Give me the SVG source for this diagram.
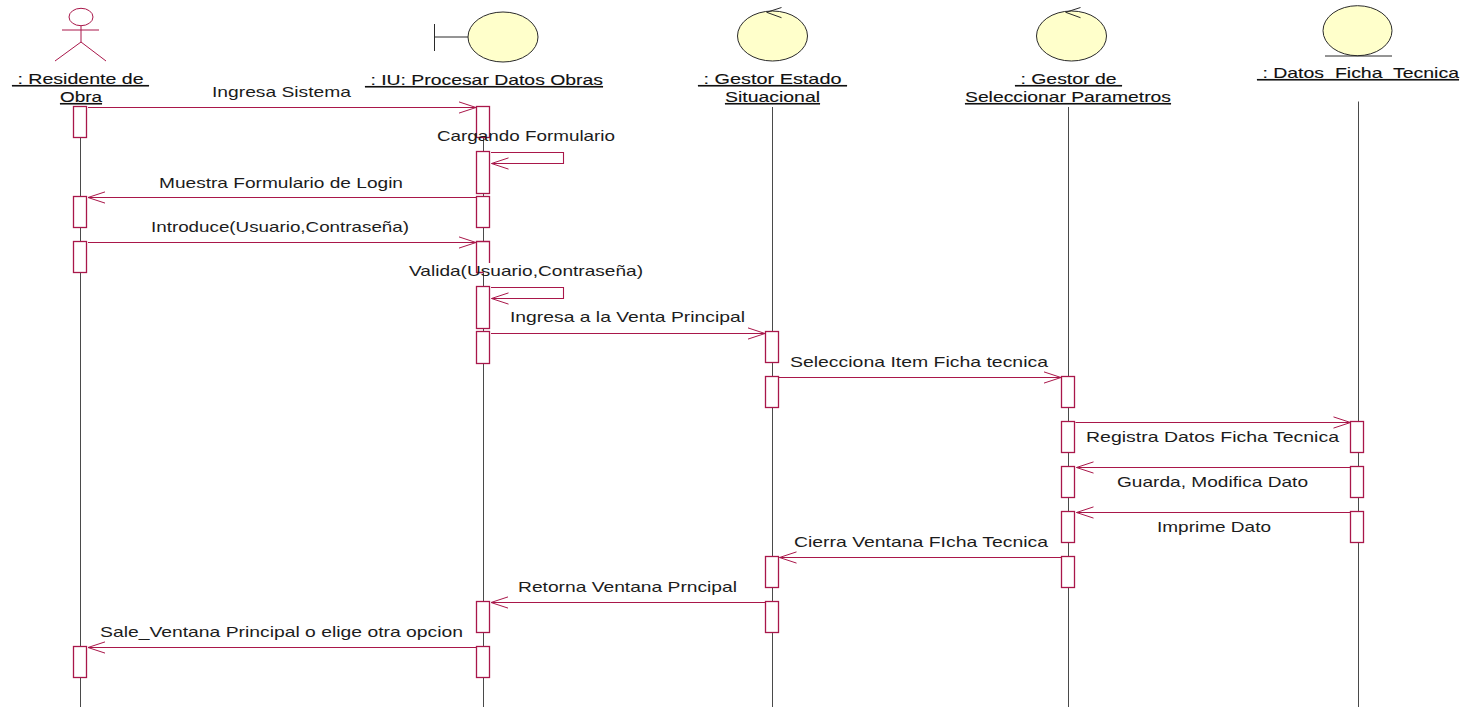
<svg xmlns="http://www.w3.org/2000/svg" width="1471" height="707" viewBox="0 0 1471 707">
<style>
text{font-family:"Liberation Sans",Arial,sans-serif;font-size:15px;fill:#1c1c1c}
.h{text-decoration:underline;fill:#111;stroke:#111;stroke-width:.12px}
.life{stroke:#4a4a4a;stroke-width:1;fill:none}
.act{fill:#fff;stroke:#a9174a;stroke-width:1.3}
.msg{stroke:#a9174a;stroke-width:1.1;fill:none}
.head{stroke:#a9174a;stroke-width:1;fill:none}
.ball{fill:#ffffcb;stroke:#2a2a2a;stroke-width:1}
.dk{stroke:#2a2a2a;stroke-width:1;fill:none}
.actor{stroke:#a9174a;stroke-width:1;fill:none}
</style>
<defs>
<path id="ar" class="head" d="M-17,-5.600 L0,0 L-17,5.600"/>
<path id="al" class="head" d="M17,-5.600 L0,0 L17,5.600"/>
</defs>
<g id="lifelines">
<path class="life" d="M80.500,107V707M483.500,107V707M772.500,107V707M1068.500,107V707M1358.500,101.500V707"/>
</g>
<g id="node-residente">
<ellipse class="actor" cx="81" cy="17" rx="12" ry="8.700"/>
<path class="actor" d="M62,30H99M81,26V42M55,61L81,42L106,61"/>
<text class="h" x="12" y="84" textLength="137" lengthAdjust="spacingAndGlyphs" xml:space="preserve"> : Residente de </text>
<text class="h" x="60" y="102" textLength="42" lengthAdjust="spacingAndGlyphs">Obra</text>
</g>
<g id="node-iu">
<ellipse class="ball" cx="503" cy="37" rx="35" ry="25"/>
<path class="dk" d="M434.500,24V51M434.500,37H468"/>
<text class="h" x="365" y="85" textLength="238" lengthAdjust="spacingAndGlyphs" xml:space="preserve"> : IU: Procesar Datos Obras</text>
</g>
<g id="node-gestor-estado">
<ellipse class="ball" cx="772.500" cy="36" rx="35" ry="25"/>
<path class="dk" d="M781.500,7.500L766.700,12.300L781.500,17.700"/>
<text class="h" x="698" y="84" textLength="149" lengthAdjust="spacingAndGlyphs" xml:space="preserve"> : Gestor Estado </text>
<text class="h" x="725" y="102" textLength="95" lengthAdjust="spacingAndGlyphs">Situacional</text>
</g>
<g id="node-gestor-seleccionar">
<ellipse class="ball" cx="1071.500" cy="36" rx="35" ry="25"/>
<path class="dk" d="M1080.500,7.500L1065.700,12.300L1080.500,17.700"/>
<text class="h" x="1015" y="84" textLength="107" lengthAdjust="spacingAndGlyphs" xml:space="preserve"> : Gestor de </text>
<text class="h" x="965" y="102" textLength="206" lengthAdjust="spacingAndGlyphs">Seleccionar Parametros</text>
</g>
<g id="node-datos">
<ellipse class="ball" cx="1357.500" cy="30.700" rx="34.500" ry="25"/>
<path class="dk" d="M1325,56H1392"/>
<text class="h" x="1257" y="78" textLength="202" lengthAdjust="spacingAndGlyphs" xml:space="preserve"> : Datos  Ficha  Tecnica</text>
</g>
<g id="activations">
<rect class="act" x="73.500" y="106.500" width="13" height="31"/>
<rect class="act" x="73.500" y="196.500" width="13" height="31"/>
<rect class="act" x="73.500" y="241.500" width="13" height="31"/>
<rect class="act" x="73.500" y="646.500" width="13" height="31"/>
<rect class="act" x="476.500" y="106.500" width="13" height="31"/>
<rect class="act" x="476.500" y="151.500" width="13" height="42"/>
<rect class="act" x="476.500" y="196.500" width="13" height="31"/>
<path class="act" d="M483.500,272.500H476.500V241.500H489.500V263"/>
<rect class="act" x="476.500" y="286.500" width="13" height="42"/>
<rect class="act" x="476.500" y="331.500" width="13" height="32"/>
<rect class="act" x="476.500" y="601.500" width="13" height="31"/>
<rect class="act" x="476.500" y="646.500" width="13" height="31"/>
<rect class="act" x="765.500" y="331.500" width="13" height="31"/>
<rect class="act" x="765.500" y="376.500" width="13" height="31"/>
<rect class="act" x="765.500" y="556.500" width="13" height="31"/>
<rect class="act" x="765.500" y="601.500" width="13" height="31"/>
<rect class="act" x="1061.500" y="376.500" width="13" height="31"/>
<rect class="act" x="1061.500" y="421.500" width="13" height="31"/>
<rect class="act" x="1061.500" y="466.500" width="13" height="31"/>
<rect class="act" x="1061.500" y="511.500" width="13" height="31"/>
<rect class="act" x="1061.500" y="556.500" width="13" height="31"/>
<rect class="act" x="1350.500" y="421.500" width="13" height="31"/>
<rect class="act" x="1350.500" y="466.500" width="13" height="31"/>
<rect class="act" x="1350.500" y="511.500" width="13" height="31"/>
</g>
<g id="connectors">
<path class="msg" d="M88,107.500H476"/><use href="#ar" x="476" y="107.500"/>
<path class="msg" d="M491,152.500H563.500V163.500H491.500"/><use href="#al" x="491.500" y="163.500"/>
<path class="msg" d="M476,197.500H88"/><use href="#al" x="88" y="197.500"/>
<path class="msg" d="M88,242.500H476"/><use href="#ar" x="476" y="242.500"/>
<path class="msg" d="M491,287.500H563.500V298.500H491.500"/><use href="#al" x="491.500" y="298.500"/>
<path class="msg" d="M491,333.500H765"/><use href="#ar" x="765" y="333.500"/>
<path class="msg" d="M779,377.500H1061"/><use href="#ar" x="1061" y="377.500"/>
<path class="msg" d="M1075.500,422.500H1350.500"/><use href="#ar" x="1350.500" y="422.500"/>
<path class="msg" d="M1350,467.500H1076.500"/><use href="#al" x="1076.500" y="467.500"/>
<path class="msg" d="M1350,512.500H1076.500"/><use href="#al" x="1076.500" y="512.500"/>
<path class="msg" d="M1061,557.500H779.500"/><use href="#al" x="779.500" y="557.500"/>
<path class="msg" d="M765,602.500H491"/><use href="#al" x="491" y="602.500"/>
<path class="msg" d="M476,647.500H88"/><use href="#al" x="88" y="647.500"/>
</g>
<g id="labels">
<text x="212" y="96.500" textLength="139" lengthAdjust="spacingAndGlyphs">Ingresa Sistema</text>
<text x="437" y="141" textLength="178" lengthAdjust="spacingAndGlyphs">Cargando Formulario</text>
<text x="159" y="187.500" textLength="244" lengthAdjust="spacingAndGlyphs">Muestra Formulario de Login</text>
<text x="151" y="231.500" textLength="258" lengthAdjust="spacingAndGlyphs">Introduce(Usuario,Contraseña)</text>
<text x="409" y="276" textLength="234" lengthAdjust="spacingAndGlyphs">Valida(Usuario,Contraseña)</text>
<text x="510" y="322" textLength="235" lengthAdjust="spacingAndGlyphs">Ingresa a la Venta Principal</text>
<text x="790" y="366.500" textLength="258" lengthAdjust="spacingAndGlyphs">Selecciona Item Ficha tecnica</text>
<text x="1086" y="442" textLength="253" lengthAdjust="spacingAndGlyphs">Registra Datos Ficha Tecnica</text>
<text x="1117" y="487" textLength="191" lengthAdjust="spacingAndGlyphs">Guarda, Modifica Dato</text>
<text x="1157" y="532" textLength="114" lengthAdjust="spacingAndGlyphs">Imprime Dato</text>
<text x="794" y="546.500" textLength="254" lengthAdjust="spacingAndGlyphs">Cierra Ventana FIcha Tecnica</text>
<text x="518" y="591.500" textLength="219" lengthAdjust="spacingAndGlyphs">Retorna Ventana Prncipal</text>
<text x="100" y="636.500" textLength="363" lengthAdjust="spacingAndGlyphs">Sale_Ventana Principal o elige otra opcion</text>
</g>
</svg>
